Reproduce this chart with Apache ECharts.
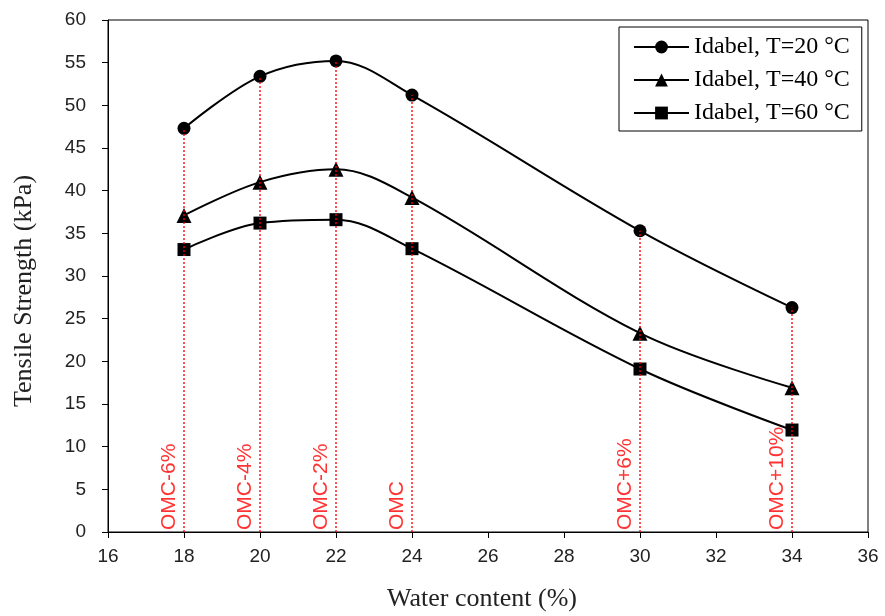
<!DOCTYPE html>
<html>
<head>
<meta charset="utf-8">
<script src="https://cdn.jsdelivr.net/npm/echarts@6/dist/echarts.min.js"></script>
<style>html,body{margin:0;padding:0;background:#fff}#c{width:885px;height:616px}</style>
</head>
<body>
<div id="c"></div>
<script>
const waterContent = [18, 20, 22, 24, 30, 34];
const t20 = [47.3, 53.4, 55.2, 51.2, 35.3, 26.3];
const t40 = [37.1, 41.0, 42.5, 39.2, 23.3, 16.9];
const t60 = [33.1, 36.2, 36.6, 33.2, 19.1, 11.95];
const seriesNames = ['Idabel, T=20 °C', 'Idabel, T=40 °C', 'Idabel, T=60 °C'];
const omcLabels = ['OMC-6%', 'OMC-4%', 'OMC-2%', 'OMC', 'OMC+6%', 'OMC+10%'];

const pair = (xs, ys) => xs.map((x, i) => [x, ys[i]]);
const chart = echarts.init(document.getElementById('c'));
const lineCommon = {
  type: 'line', smooth: 0.35, showSymbol: true,
  lineStyle: {color: '#000', width: 2},
  itemStyle: {color: '#000'},
  z: 3
};
const guideSeries = waterContent.map((x, i) => ({
  type: 'line', data: [[x, 0], [x, t20[i]]], z: 10, silent: true,
  symbol: 'none', showSymbol: false,
  itemStyle: {color: '#ff0000'},
  lineStyle: {color: '#ff0000', type: [2, 2], width: 1.6, opacity: 0.85}
}));
chart.setOption({
  animation: false,
  grid: {left: 108, right: 17, top: 20, bottom: 84, show: true, borderColor: '#000', borderWidth: 1,
         containLabel: false, outerBoundsMode: 'none'},
  legend: {
    data: seriesNames, orient: 'vertical', left: 619, top: 27,
    backgroundColor: '#fff', borderColor: '#000', borderWidth: 1,
    padding: [8, 12, 6, 14], itemWidth: 55, itemHeight: 16, itemGap: 9,
    textStyle: {fontFamily: 'Liberation Serif', fontSize: 24, color: '#000', lineHeight: 24}
  },
  xAxis: {
    type: 'value', min: 16, max: 36, interval: 2,
    name: 'Water content (%)', nameLocation: 'middle', nameGap: 54,
    nameTextStyle: {fontFamily: 'Liberation Serif', fontSize: 26, color: '#222', padding: [0, 12, 0, 0]},
    axisLine: {lineStyle: {color: '#000', width: 1}},
    axisTick: {inside: false, length: 6, lineStyle: {color: '#000'}},
    axisLabel: {fontFamily: 'Liberation Sans', fontSize: 19, color: '#222', margin: 15},
    splitLine: {show: false}
  },
  yAxis: {
    type: 'value', min: 0, max: 60, interval: 5,
    name: 'Tensile Strength (kPa)', nameLocation: 'middle', nameGap: 71,
    nameTextStyle: {fontFamily: 'Liberation Serif', fontSize: 26, color: '#222', padding: [0, 30, 0, 0]},
    axisLine: {lineStyle: {color: '#000', width: 1}},
    axisTick: {inside: false, length: 6, lineStyle: {color: '#000'}},
    axisLabel: {fontFamily: 'Liberation Sans', fontSize: 19, color: '#222', margin: 22},
    splitLine: {show: false}
  },
  series: [
    Object.assign({}, lineCommon, {name: seriesNames[0], data: pair(waterContent, t20), symbol: 'circle', symbolSize: 13}),
    Object.assign({}, lineCommon, {name: seriesNames[1], data: pair(waterContent, t40), symbol: 'triangle', symbolSize: 15}),
    Object.assign({}, lineCommon, {name: seriesNames[2], data: pair(waterContent, t60), symbol: 'rect', symbolSize: 13})
  ].concat(guideSeries, [
    {
      type: 'scatter', symbolSize: 0, z: 11, silent: true,
      data: waterContent.map((x, i) => ({value: [x, 0], label: {formatter: omcLabels[i]}})),
      label: {
        show: true, position: [0, 0], rotate: 90, align: 'left', verticalAlign: 'bottom',
        offset: [2, -4],
        fontFamily: 'Liberation Sans', fontSize: 21, color: '#ff0000'
      }
    }
  ])
});
</script>
</body>
</html>
